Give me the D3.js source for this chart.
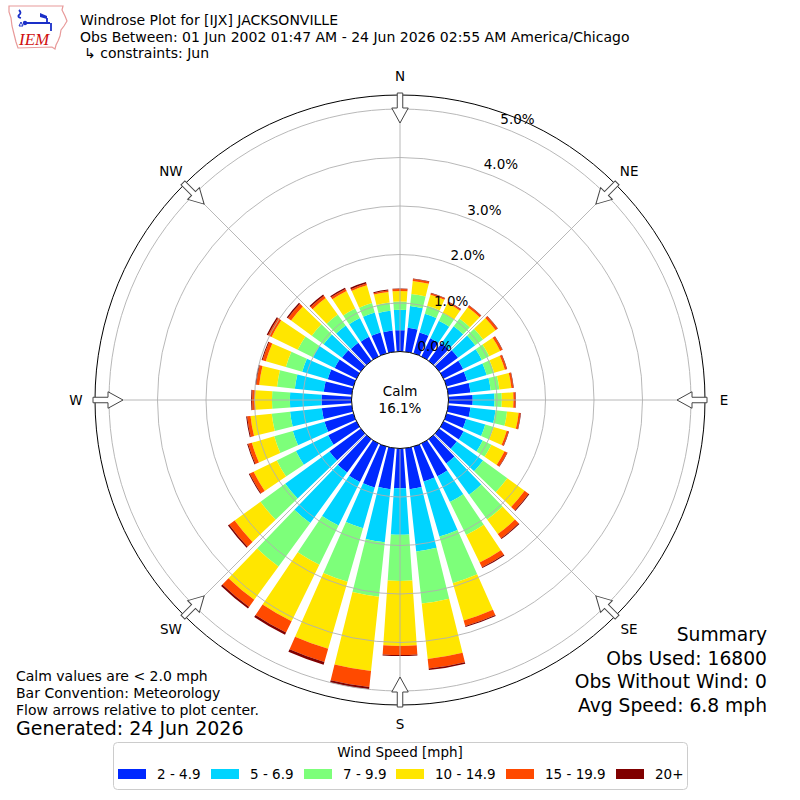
<!DOCTYPE html>
<html><head><meta charset="utf-8">
<script src="https://cdn.jsdelivr.net/npm/d3@7"></script>
<style>body{margin:0;background:#fff}svg{display:block;font-family:"DejaVu Sans",sans-serif}</style>
</head><body>
<svg id="chart" width="800" height="800"></svg>
<script>
// ---- data (percent of observations) ----
const directions = [0,10,20,30,40,50,60,70,80,90,100,110,120,130,140,150,160,170,180,190,200,210,220,230,240,250,260,270,280,290,300,310,320,330,340,350];
const speedLabels = ["2 - 4.9","5 - 6.9","7 - 9.9","10 - 14.9","15 - 19.9","20+"];
const speedColors = ["#0028ff","#00d4ff","#7dff7a","#ffe600","#ff4a00","#800000"];
const speed2to5   = [0.44,0.50,0.45,0.42,0.45,0.48,0.45,0.44,0.46,0.50,0.46,0.42,0.46,0.45,0.62,0.75,0.75,0.85,0.82,0.85,0.88,0.88,0.85,0.80,0.65,0.62,0.62,0.62,0.58,0.55,0.50,0.48,0.46,0.45,0.45,0.44];
const speed5to7   = [0.42,0.45,0.40,0.40,0.43,0.44,0.43,0.42,0.42,0.45,0.52,0.41,0.44,0.67,0.80,0.59,1.18,1.29,0.96,1.10,0.87,1.00,1.29,1.13,0.74,0.68,0.66,0.65,0.60,0.55,0.50,0.47,0.44,0.43,0.43,0.41];
const speed7to10  = [0.17,0.25,0.17,0.18,0.20,0.20,0.17,0.16,0.18,0.15,0.24,0.18,0.20,0.62,0.63,0.76,1.00,1.08,0.95,1.13,1.15,0.90,1.11,0.63,0.44,0.40,0.38,0.37,0.37,0.35,0.35,0.30,0.28,0.22,0.20,0.17];
const speed10to15 = [0.22,0.27,0.24,0.22,0.29,0.32,0.25,0.23,0.25,0.24,0.24,0.28,0.30,0.44,0.37,0.63,0.80,1.15,1.34,1.54,1.44,1.30,0.85,0.66,0.53,0.48,0.44,0.35,0.37,0.43,0.60,0.53,0.42,0.40,0.38,0.22];
const speed15to20 = [0.04,0.04,0.03,0.03,0.04,0.05,0.05,0.04,0.04,0.04,0.04,0.04,0.06,0.10,0.11,0.11,0.12,0.20,0.19,0.33,0.28,0.26,0.18,0.14,0.09,0.08,0.07,0.06,0.06,0.07,0.08,0.08,0.06,0.05,0.04,0.03];
const speed20plus = [0.01,0.01,0.01,0.01,0.01,0.01,0.01,0.01,0.01,0.01,0.01,0.01,0.01,0.02,0.02,0.02,0.02,0.03,0.02,0.05,0.06,0.05,0.04,0.03,0.02,0.02,0.02,0.02,0.02,0.02,0.03,0.03,0.03,0.03,0.03,0.02];
const series = [speed2to5,speed5to7,speed7to10,speed10to15,speed15to20,speed20plus];
const ringTicks = [0,1,2,3,4,5];
const compassLabels = ["N","NE","E","SE","S","SW","W","NW"];
const calmPct = "16.1%";
const titleLines = ["Windrose Plot for [IJX] JACKSONVILLE","Obs Between: 01 Jun 2002 01:47 AM - 24 Jun 2026 02:55 AM America/Chicago","\u21B3 constraints: Jun"];
const noteLines = ["Calm values are < 2.0 mph","Bar Convention: Meteorology","Flow arrows relative to plot center."];
const generated = "Generated: 24 Jun 2026";
const summaryLines = ["Summary","Obs Used: 16800","Obs Without Wind: 0","Avg Speed: 6.8 mph"];

// ---- layout ----
const svg = d3.select("#chart");
const cx = 400, cy = 400;
const r = d3.scaleLinear().domain([0,5]).range([48.5,291]);
const outerR = 305;
const g = svg.append("g").attr("transform",`translate(${cx},${cy})`);
const rad = d => d*Math.PI/180;
const halfW = 3.9;

// stacked bars
const arc = d3.arc();
directions.forEach((dir,i)=>{
  let cum = 0;
  series.forEach((s,k)=>{
    const v = s[i];
    g.append("path")
      .attr("d", arc({innerRadius:r(cum), outerRadius:r(cum+v), startAngle:rad(dir-halfW), endAngle:rad(dir+halfW)}))
      .attr("fill", speedColors[k]);
    cum += v;
  });
});

// grid
ringTicks.slice(1).forEach(t=>{
  g.append("circle").attr("r",r(t)).attr("fill","none").attr("stroke","#b0b0b0").attr("stroke-width",0.9);
});
d3.range(0,360,45).forEach(a=>{
  g.append("line")
   .attr("x1",r(0)*Math.sin(rad(a))).attr("y1",-r(0)*Math.cos(rad(a)))
   .attr("x2",outerR*Math.sin(rad(a))).attr("y2",-outerR*Math.cos(rad(a)))
   .attr("stroke","#b0b0b0").attr("stroke-width",0.9);
});
g.append("circle").attr("r",outerR).attr("fill","none").attr("stroke","#000").attr("stroke-width",1);

// calm circle
g.append("circle").attr("r",r(0)).attr("fill","#fff").attr("stroke","#000").attr("stroke-width",1);
g.append("text").attr("x",0).attr("y",-4).attr("text-anchor","middle").attr("font-size",13.5).text("Calm");
g.append("text").attr("x",0).attr("y",13).attr("text-anchor","middle").attr("font-size",13.5).text(calmPct);

// ring labels
ringTicks.forEach(t=>{
  g.append("text")
   .attr("x", r(t)*Math.sin(rad(20))+18)
   .attr("y", -r(t)*Math.cos(rad(20))-8)
   .attr("text-anchor","middle").attr("dominant-baseline","central")
   .attr("font-size",13.5).text(t.toFixed(1)+"%");
});

// compass arrows and labels
compassLabels.forEach((lab,i)=>{
  const a = i*45;
  const pts = [[-2.75,-307],[2.75,-307],[2.75,-292],[8.25,-292],[0,-277],[-8.25,-292],[-2.75,-292]];
  g.append("polygon").attr("points",pts.map(p=>p.join(",")).join(" "))
   .attr("transform",`rotate(${a})`).attr("fill","#fff").attr("stroke","#444").attr("stroke-width",1);
  g.append("text")
   .attr("x",324*Math.sin(rad(a))).attr("y",-324*Math.cos(rad(a)))
   .attr("text-anchor","middle").attr("dominant-baseline","central")
   .attr("font-size",13.5).text(lab);
});

// title
titleLines.forEach((t,i)=>{
  svg.append("text").attr("x", i===2?84:80).attr("y",25+i*16.5).attr("font-size",14).text(t);
});

// logo
const logo = svg.append("g");
logo.append("path").attr("d","M9,6 L63,6 L62,10 L65,16 L67,21 L64,26 L61,30 L60,36 L58,41 L56,45 L55,49 L52,47 L18,48 L16,42 L14,34 L12,26 L11,18 L9,12 Z")
  .attr("fill","none").attr("stroke","#e89a9a").attr("stroke-width",1.2);
logo.append("path").attr("d","M25,23 L50,23 M47,18 L47,23 M51,23 L51,31 M19,10 Q22,13 19,15 Q17,17 21,18")
  .attr("fill","none").attr("stroke","#1a2fc8").attr("stroke-width",1.8);
logo.append("path").attr("d","M40,13 L47,16 L47,19 L40,17 Z").attr("fill","#1a2fc8");
logo.append("path").attr("d","M19,26 L21,22 L23,26 Z").attr("fill","none").attr("stroke","#1a2fc8").attr("stroke-width",1);
logo.append("circle").attr("cx",25).attr("cy",23).attr("r",2.2).attr("fill","#1a2fc8");
logo.append("text").attr("x",19).attr("y",45).attr("font-family","'Liberation Serif',serif").attr("font-style","italic")
  .attr("font-size",17).attr("fill","#d01010").text("IEM");

// notes
noteLines.forEach((t,i)=>{
  svg.append("text").attr("x",16).attr("y",681+i*17).attr("font-size",14).text(t);
});
svg.append("text").attr("x",16).attr("y",735).attr("font-size",19).text(generated);

// summary
summaryLines.forEach((t,i)=>{
  svg.append("text").attr("x",767).attr("y",641+i*23.5).attr("text-anchor","end").attr("font-size",18.7).text(t);
});

// legend
const lg = svg.append("g");
lg.append("rect").attr("x",113.5).attr("y",742.5).attr("width",574).attr("height",47).attr("rx",4)
  .attr("fill","#fff").attr("stroke","#cccccc").attr("stroke-width",1);
lg.append("text").attr("x",400).attr("y",757).attr("text-anchor","middle").attr("font-size",13.5).text("Wind Speed [mph]");
const swX = [118,211,304,396,506,616];
speedLabels.forEach((lab,k)=>{
  lg.append("rect").attr("x",swX[k]).attr("y",769).attr("width",28).attr("height",10).attr("fill",speedColors[k]);
  lg.append("text").attr("x",swX[k]+39).attr("y",779).attr("font-size",13.5).text(lab);
});
</script>
</body></html>
